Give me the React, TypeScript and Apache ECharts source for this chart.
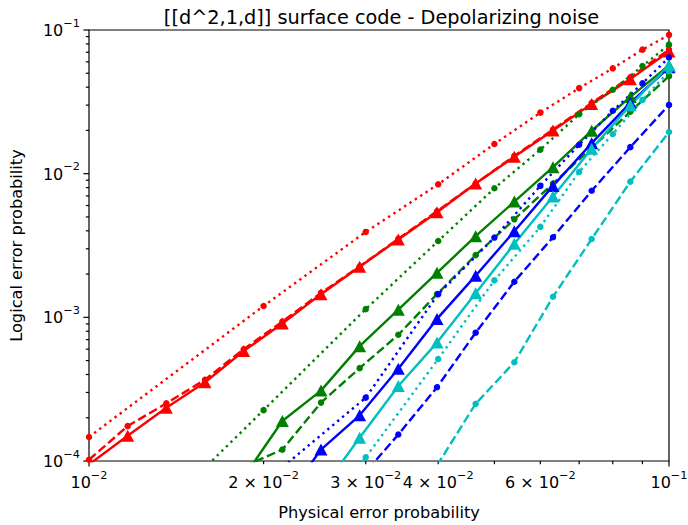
import React, { useEffect, useRef } from "react";
import * as echarts from "echarts";

// Physical error rates: log-spaced sweep (solid / dashed curves) and linear sweep (dotted curves)
const pLog = [
  0.01, 0.011659, 0.013594, 0.015849, 0.018478, 0.021544, 0.025119, 0.029286,
  0.034145, 0.039811, 0.046416, 0.054117, 0.063096, 0.073564, 0.08577, 0.1,
];
const pLin = [0.01, 0.02, 0.03, 0.04, 0.05, 0.06, 0.07, 0.08, 0.09, 0.1];

// Red
const redSolid = [9.46e-5, 1.5e-4, 2.35e-4, 3.53e-4, 5.82e-4, 9.05e-4, 1.45e-3, 2.25e-3, 3.48e-3, 5.39e-3, 8.53e-3, 1.31e-2, 2.0e-2, 3.06e-2, 4.55e-2, 7.08e-2];
const redDashed = [1.02e-4, 1.75e-4, 2.52e-4, 3.68e-4, 6.0e-4, 9.34e-4, 1.48e-3, 2.26e-3, 3.52e-3, 5.48e-3, 8.53e-3, 1.33e-2, 2.03e-2, 3.11e-2, 4.69e-2, 7.31e-2];
const redDotted = [1.47e-4, 1.2e-3, 3.93e-3, 8.43e-3, 1.61e-2, 2.66e-2, 3.94e-2, 5.41e-2, 7.3e-2, 9.25e-2];

// Green (log sweep starts at index 4)
const greenSolid = [7.7e-5, 1.9e-4, 3.09e-4, 6.3e-4, 1.13e-3, 2.04e-3, 3.67e-3, 6.39e-3, 1.11e-2, 1.99e-2, 3.42e-2, 5.67e-2];
const greenDashed = [9.17e-5, 1.2e-4, 2.55e-4, 4.43e-4, 7.57e-4, 1.45e-3, 2.71e-3, 4.81e-3, 8.53e-3, 1.51e-2, 2.7e-2, 4.77e-2];
const greenDotted = [1.45e-5, 2.26e-4, 1.14e-3, 3.4e-3, 7.91e-3, 1.47e-2, 2.59e-2, 3.84e-2, 5.61e-2, 7.91e-2];

// Blue (solid from index 5, dashed from index 7, dotted from p = 0.02)
const blueSolid = [5.1e-5, 1.2e-4, 2.08e-4, 4.38e-4, 9.75e-4, 1.95e-3, 3.97e-3, 8.22e-3, 1.63e-2, 3.11e-2, 5.5e-2];
const blueDashed = [7.5e-5, 1.53e-4, 3.26e-4, 7.82e-4, 1.77e-3, 3.61e-3, 7.6e-3, 1.53e-2, 3.01e-2];
const blueDotted = [7.01e-5, 2.76e-4, 1.45e-3, 3.59e-3, 8.22e-3, 1.59e-2, 2.74e-2, 4.25e-2, 6.44e-2];

// Cyan (solid from index 6, dashed from index 9, dotted from p = 0.02)
const cyanSolid = [6.2e-5, 1.45e-4, 3.33e-4, 6.67e-4, 1.47e-3, 3.25e-3, 6.94e-3, 1.49e-2, 2.99e-2, 5.67e-2];
const cyanDashed = [9.3e-5, 2.5e-4, 4.87e-4, 1.39e-3, 3.51e-3, 8.8e-3, 1.95e-2];
const cyanDotted = [1.5e-5, 1.06e-4, 5.13e-4, 1.81e-3, 4.26e-3, 1.03e-2, 1.89e-2, 3.26e-2, 5.16e-2];

// Tick labels
const yMajor = [1e-4, 1e-3, 1e-2, 1e-1];
const xMajor = [0.01, 0.1];
const xMinorLabelled = [2, 3, 4, 6];

const FONT = "DejaVu Sans";
const RED = "#ff0000";
const GREEN = "#008000";
const BLUE = "#0000ff";
const CYAN = "#00bfbf";

const pairs = (xs: number[], ys: number[]) => {
  const off = xs.length - ys.length;
  return ys.map((y, i) => [xs[i + off], y]);
};

type Kind = "solid" | "dashed" | "dotted";
const mk = (name: string, xs: number[], ys: number[], color: string, kind: Kind) => ({
  name,
  type: "line",
  data: pairs(xs, ys),
  symbol: kind === "solid" ? "triangle" : "circle",
  symbolSize: kind === "solid" ? [13, 12] : 6.5,
  showSymbol: true,
  clip: true,
  itemStyle: { color, borderWidth: 0 },
  lineStyle: {
    color,
    width: 2.4,
    type: kind === "solid" ? "solid" : kind === "dashed" ? [8.9, 3.8] : [2.4, 4.0],
    cap: "butt",
  },
  emphasis: { disabled: true },
});

const sup = (mant: string, e: number) => `{b|${mant}10}{s|\u2212${Math.abs(e)}}`;

const richLabel = {
  b: { fontFamily: FONT, fontSize: 16, lineHeight: 21, verticalAlign: "bottom", fill: "#000" },
  s: { fontFamily: FONT, fontSize: 11.3, lineHeight: 13, verticalAlign: "top", fill: "#000" },
};

export default function App() {
  const ref = useRef<HTMLDivElement>(null);
  useEffect(() => {
    const chart = echarts.init(ref.current!, null, { renderer: "svg" });
    chart.setOption({
      animation: false,
      backgroundColor: "#fff",
      title: {
        text: "[[d^2,1,d]] surface code - Depolarizing noise",
        left: 376.5,
        top: 3,
        textAlign: "center",
        textStyle: { fontFamily: FONT, fontSize: 19.3, fontWeight: "normal", color: "#000" },
      },
      grid: { left: 84, right: 19, top: 30, bottom: 58, show: true, borderColor: "#000", borderWidth: 1.2, backgroundColor: "transparent" },
      xAxis: {
        type: "log",
        logBase: 10,
        min: 0.01,
        max: 0.1,
        axisLine: { show: false },
        axisTick: { show: false },
        axisLabel: { show: false },
        splitLine: { show: false },
        name: "Physical error probability",
        nameLocation: "middle",
        nameGap: 43,
        nameTextStyle: { fontFamily: FONT, fontSize: 16.2, color: "#000" },
      },
      yAxis: {
        type: "log",
        logBase: 10,
        min: 1e-4,
        max: 1e-1,
        axisLine: { show: false },
        axisTick: { show: false },
        axisLabel: { show: false },
        splitLine: { show: false },
        name: "Logical error probability",
        nameLocation: "middle",
        nameGap: 65,
        nameTextStyle: { fontFamily: FONT, fontSize: 16.2, color: "#000" },
      },
      series: [
        mk("red solid", pLog, redSolid, RED, "solid"),
        mk("red dashed", pLog, redDashed, RED, "dashed"),
        mk("red dotted", pLin, redDotted, RED, "dotted"),
        mk("green solid", pLog, greenSolid, GREEN, "solid"),
        mk("green dashed", pLog, greenDashed, GREEN, "dashed"),
        mk("green dotted", pLin, greenDotted, GREEN, "dotted"),
        mk("blue solid", pLog, blueSolid, BLUE, "solid"),
        mk("blue dashed", pLog, blueDashed, BLUE, "dashed"),
        mk("blue dotted", pLin, blueDotted, BLUE, "dotted"),
        mk("cyan solid", pLog, cyanSolid, CYAN, "solid"),
        mk("cyan dashed", pLog, cyanDashed, CYAN, "dashed"),
        mk("cyan dotted", pLin, cyanDotted, CYAN, "dotted"),
      ],
    });

    // Axis ticks and labels, placed through the axes' own scales
    const xPx = (v: number) => chart.convertToPixel({ xAxisIndex: 0 }, v) as number;
    const yPx = (v: number) => chart.convertToPixel({ yAxisIndex: 0 }, v) as number;
    const x0 = xPx(0.01);
    const y0 = yPx(1e-4);
    const tick = { stroke: "#000", lineWidth: 1.2 };
    const els: any[] = [];
    const majorLen = 5.6;
    const minorLen = 3.2;

    // y ticks
    yMajor.forEach((v) => {
      const y = yPx(v);
      els.push({ type: "line", shape: { x1: x0 - majorLen, y1: y, x2: x0, y2: y }, style: tick, silent: true });
      const e = Math.round(Math.log10(v));
      els.push({
        type: "text",
        x: x0 - majorLen - 3.5,
        y: y - 2,
        style: { text: sup("", e), rich: richLabel, align: "right", verticalAlign: "middle" },
        silent: true,
      });
    });
    [1e-4, 1e-3, 1e-2].forEach((dec) => {
      for (let m = 2; m <= 9; m++) {
        const y = yPx(dec * m);
        els.push({ type: "line", shape: { x1: x0 - minorLen, y1: y, x2: x0, y2: y }, style: tick, silent: true });
      }
    });

    // x ticks
    xMajor.forEach((v) => {
      const x = xPx(v);
      els.push({ type: "line", shape: { x1: x, y1: y0, x2: x, y2: y0 + majorLen }, style: tick, silent: true });
      const e = Math.round(Math.log10(v));
      els.push({
        type: "text",
        x,
        y: y0 + majorLen + 3,
        style: { text: sup("", e), rich: richLabel, align: "center", verticalAlign: "top" },
        silent: true,
      });
    });
    for (let m = 2; m <= 9; m++) {
      const x = xPx(0.01 * m);
      els.push({ type: "line", shape: { x1: x, y1: y0, x2: x, y2: y0 + minorLen }, style: tick, silent: true });
    }
    xMinorLabelled.forEach((m) => {
      const x = xPx(0.01 * m);
      els.push({
        type: "text",
        x,
        y: y0 + majorLen + 3,
        style: { text: sup(`${m} \u00d7 `, -2), rich: richLabel, align: "center", verticalAlign: "top" },
        silent: true,
      });
    });

    chart.setOption({ graphic: els });
    return () => chart.dispose();
  }, []);
  return <div ref={ref} style={{ position: "absolute", left: 0, top: 0, width: 688, height: 525 }} />;
}
